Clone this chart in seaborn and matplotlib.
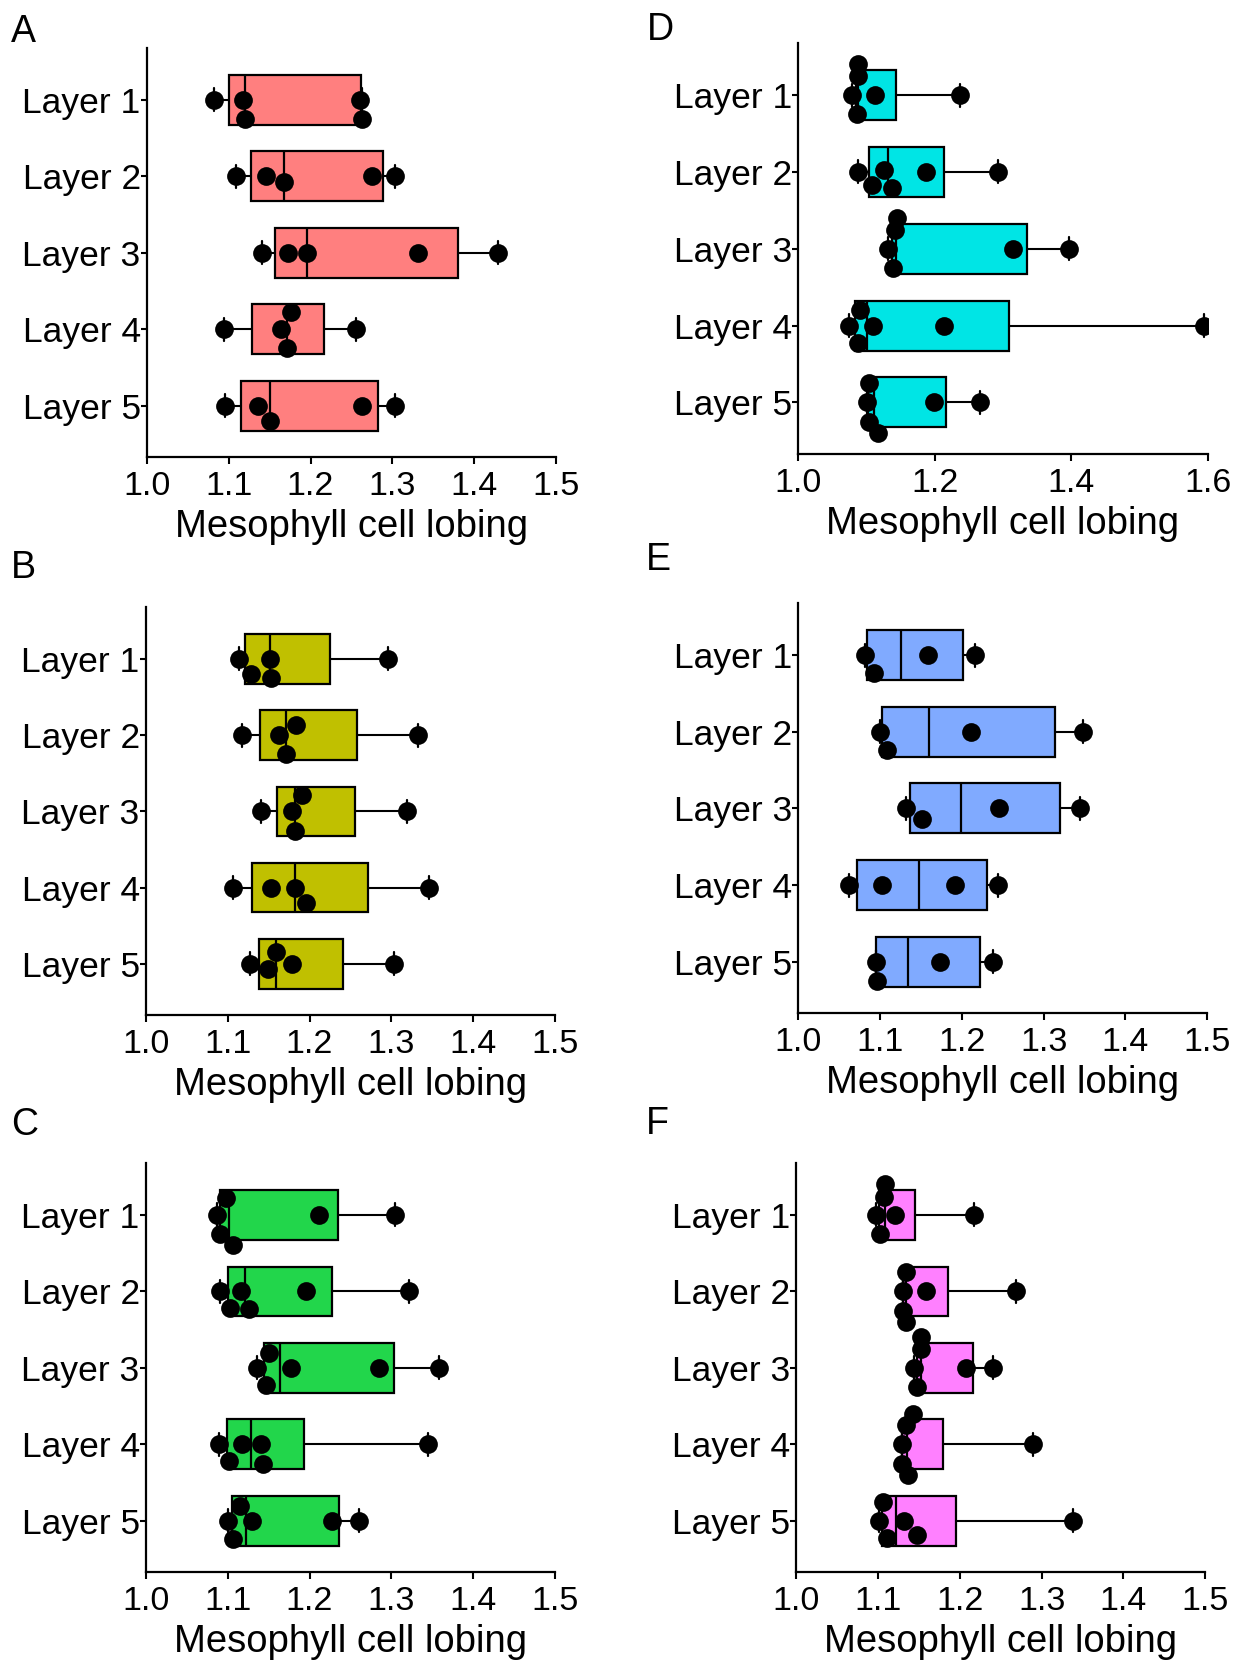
import numpy as np
import pandas as pd
import seaborn as sns
import matplotlib.pyplot as plt

layers = ['Layer 1', 'Layer 2', 'Layer 3', 'Layer 4', 'Layer 5']

# values, one list per layer
panel_a = [[1.082, 1.118, 1.120, 1.260, 1.263],
           [1.109, 1.146, 1.168, 1.275, 1.303],
           [1.141, 1.172, 1.196, 1.331, 1.429],
           [1.094, 1.164, 1.171, 1.176, 1.256],
           [1.095, 1.136, 1.151, 1.263, 1.303]]
panel_b = [[1.114, 1.129, 1.152, 1.153, 1.296],
           [1.117, 1.163, 1.171, 1.183, 1.333],
           [1.141, 1.179, 1.182, 1.191, 1.319],
           [1.106, 1.153, 1.182, 1.196, 1.346],
           [1.127, 1.149, 1.159, 1.178, 1.303]]
panel_c = [[1.087, 1.091, 1.098, 1.106, 1.212, 1.304],
           [1.091, 1.103, 1.116, 1.126, 1.196, 1.322],
           [1.136, 1.147, 1.151, 1.177, 1.285, 1.358],
           [1.089, 1.102, 1.117, 1.141, 1.143, 1.345],
           [1.100, 1.107, 1.115, 1.130, 1.228, 1.261]]
panel_d = [[1.078, 1.086, 1.087, 1.088, 1.112, 1.237],
           [1.088, 1.108, 1.125, 1.137, 1.187, 1.293],
           [1.132, 1.139, 1.142, 1.144, 1.315, 1.396],
           [1.074, 1.087, 1.091, 1.110, 1.214, 1.594],
           [1.101, 1.103, 1.104, 1.117, 1.199, 1.266]]
panel_e = [[1.082, 1.092, 1.158, 1.216],
           [1.100, 1.108, 1.211, 1.348],
           [1.132, 1.151, 1.246, 1.344],
           [1.062, 1.102, 1.192, 1.244],
           [1.095, 1.096, 1.173, 1.238]]
panel_f = [[1.098, 1.102, 1.107, 1.109, 1.121, 1.217],
           [1.131, 1.131, 1.134, 1.134, 1.158, 1.269],
           [1.144, 1.148, 1.152, 1.152, 1.207, 1.241],
           [1.129, 1.129, 1.134, 1.136, 1.143, 1.289],
           [1.101, 1.106, 1.111, 1.132, 1.148, 1.338]]

xticks_std = [1.0, 1.1, 1.2, 1.3, 1.4, 1.5]
xticks_d = [1.0, 1.2, 1.4, 1.6]

sns.set_theme(style='ticks')
plt.rcParams['font.family'] = ['Liberation Sans', 'DejaVu Sans']
plt.rcParams['text.color'] = 'black'
plt.rcParams['axes.labelcolor'] = 'black'

fig = plt.figure(figsize=(12.34, 16.67), dpi=100)

# letter, data, colour, axes rect, xticks, letter position
panels = [
    ('A', panel_a, '#FF7F7F', [0.1191, 0.7259, 0.3314, 0.2454], xticks_std, (0.009, 0.975)),
    ('B', panel_b, '#C0C000', [0.1183, 0.3911, 0.3314, 0.2448], xticks_std, (0.009, 0.653)),
    ('C', panel_c, '#22D64B', [0.1183, 0.0570, 0.3314, 0.2454], xticks_std, (0.009, 0.319)),
    ('D', panel_d, '#00E5E5', [0.6469, 0.7277, 0.3318, 0.2466], xticks_d, (0.524, 0.976)),
    ('E', panel_e, '#80AAFF', [0.6469, 0.3923, 0.3314, 0.2460], xticks_std, (0.523, 0.658)),
    ('F', panel_f, '#FF80FF', [0.6453, 0.0570, 0.3314, 0.2454], xticks_std, (0.523, 0.320)),
]


def box_stats(vals):
    q1, med, q3 = np.percentile(vals, [25, 50, 75], method='weibull')
    return dict(med=med, q1=q1, q3=q3, whislo=min(vals), whishi=max(vals), fliers=[])


for letter, data, color, rect, xticks, lpos in panels:
    ax = fig.add_axes(rect)
    df = pd.DataFrame({'layer': [layers[i] for i, v in enumerate(data) for _ in v],
                       'value': [x for v in data for x in v]})

    sns.swarmplot(data=df, x='value', y='layer', order=layers, color='black',
                  size=13.5, ax=ax, zorder=3, warn_thresh=1)

    stats = [box_stats(v) for v in data]
    ax.bxp(stats, positions=range(len(layers)), widths=0.65, capwidths=0.3,
           orientation='horizontal', patch_artist=True, showfliers=False,
           manage_ticks=False,
           boxprops=dict(facecolor=color, edgecolor='black', linewidth=1.6),
           medianprops=dict(color='black', linewidth=1.6),
           whiskerprops=dict(color='black', linewidth=1.5),
           capprops=dict(color='black', linewidth=1.6), zorder=2)

    ax.set_xlim(xticks[0], xticks[-1])
    ax.set_ylim(4.67, -0.68)
    ax.set_xticks(xticks)
    ax.set_xticklabels([f'{t:.1f}' for t in xticks])
    ax.set_yticks(range(len(layers)))
    ax.set_yticklabels(layers)
    ax.set_ylabel('')
    ax.set_xlabel('Mesophyll cell lobing', fontsize=27.5, labelpad=5)
    ax.tick_params(axis='both', width=1.5, length=5, color='black', labelcolor='black')
    ax.tick_params(axis='x', labelsize=24.5, pad=5)
    ax.tick_params(axis='y', labelsize=25.5, length=4, pad=0.5)
    sns.despine(ax=ax)
    for side in ['left', 'bottom']:
        ax.spines[side].set_linewidth(1.6)
        ax.spines[side].set_color('black')

    fig.text(lpos[0], lpos[1], letter, fontsize=27, va='baseline', ha='left')

fig.savefig('out.png', dpi=100, facecolor='white')
